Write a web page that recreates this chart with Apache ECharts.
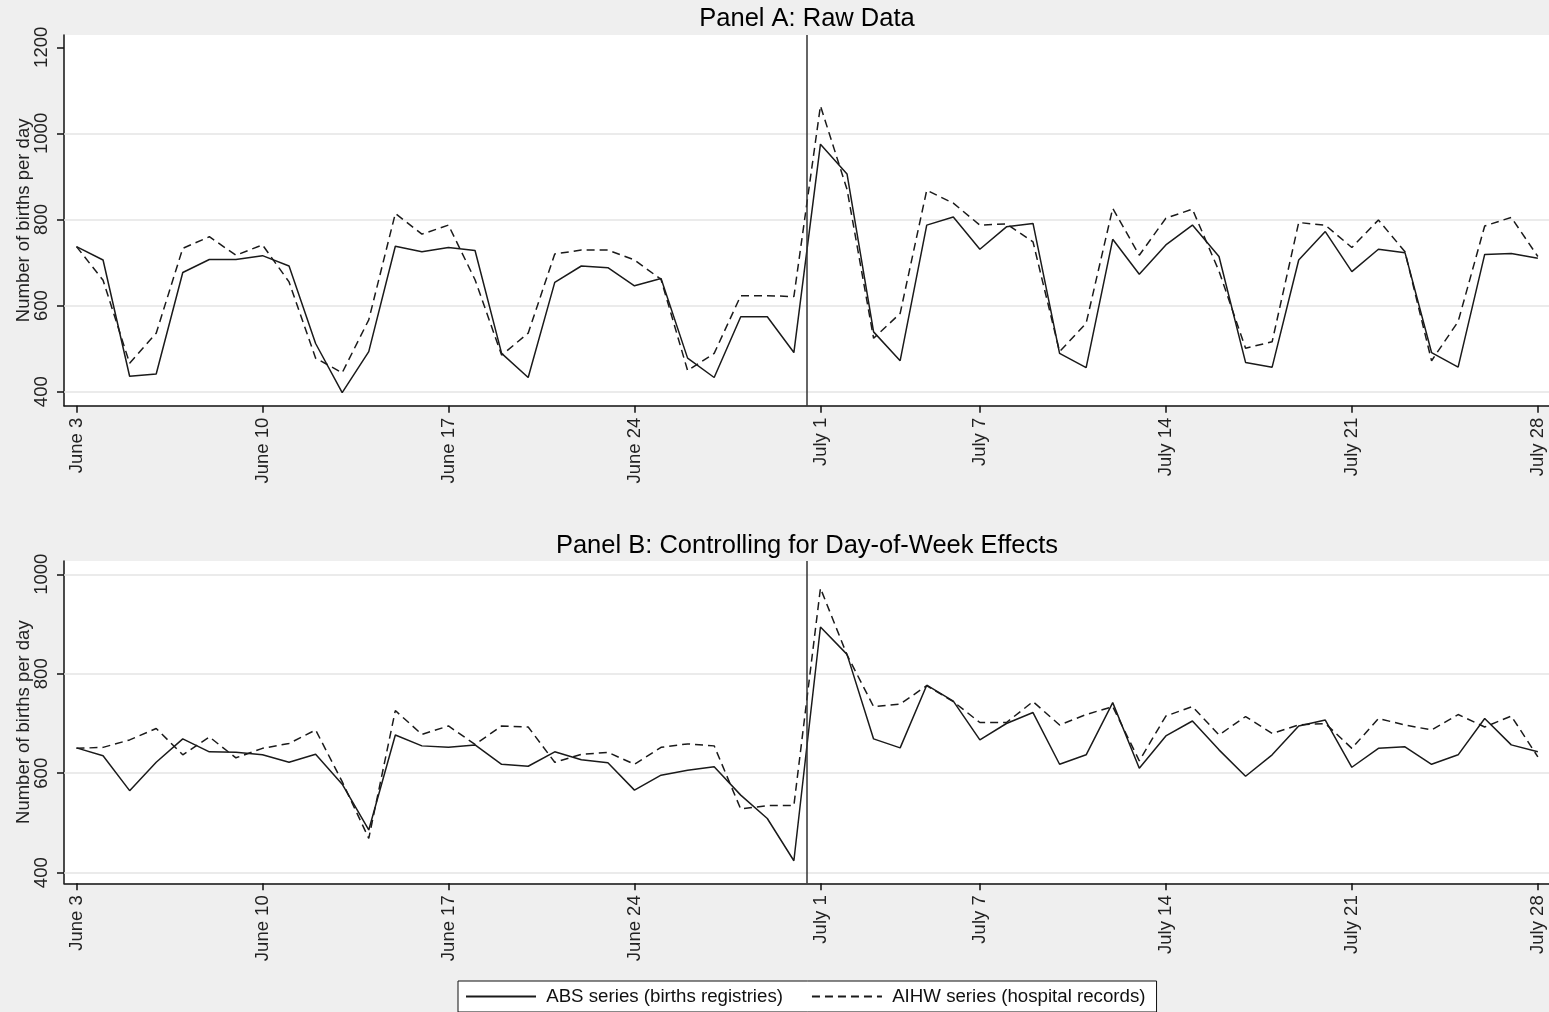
<!DOCTYPE html>
<html>
<head>
<meta charset="utf-8">
<script src="https://cdn.jsdelivr.net/npm/echarts@6/dist/echarts.min.js"></script>
<style>
html,body{margin:0;padding:0;background:#efefef;}
#c{width:1549px;height:1012px;}
</style>
</head>
<body>
<div id="c"></div>
<script>
// ---- Data (days counted from June 3 = 0 to July 28 = 55) ----
const tickDays = [0, 7, 14, 21, 28, 34, 41, 48, 55];
const tickLabels = ['June 3', 'June 10', 'June 17', 'June 24', 'July 1', 'July 7', 'July 14', 'July 21', 'July 28'];

const yTicksA = [400, 600, 800, 1000, 1200];
const gridLinesA = [400, 600, 800, 1000];
const yTicksB = [400, 600, 800, 1000];
const gridLinesB = [400, 600, 800, 1000];

const eventDay = 27.5; // boundary between June 30 and July 1

const seriesNames = ['ABS series (births registries)', 'AIHW series (hospital records)'];

// Panel A: raw data
const absRaw = [737, 706, 436, 441, 677, 707, 707, 716, 692, 512, 398, 493, 738, 725,
  735, 728, 489, 433, 654, 692, 688, 646, 663, 478, 433, 574, 574, 491,
  975, 906, 539, 472, 787, 806, 731, 783, 791, 489, 456, 754, 673, 741,
  787, 714, 468, 457, 706, 772, 679, 731, 723, 491, 457, 719, 721, 710];
const aihwRaw = [737, 659, 466, 536, 733, 760, 717, 741, 655, 478, 444, 567, 814, 766,
  787, 660, 485, 536, 720, 729, 729, 706, 661, 449, 489, 623, 623, 621,
  1064, 870, 524, 582, 868, 838, 787, 790, 748, 493, 559, 826, 717, 803,
  824, 680, 501, 516, 793, 787, 735, 799, 725, 472, 563, 785, 805, 714];

// Panel B: controlling for day-of-week effects
const absAdj = [651, 635, 565, 622, 669, 643, 642, 637, 622, 638, 578, 486, 677, 655,
  652, 657, 618, 614, 643, 627, 621, 566, 596, 606, 613, 556, 509, 424,
  894, 839, 669, 651, 777, 745, 667, 700, 722, 618, 637, 742, 610, 675,
  705, 647, 594, 637, 695, 707, 612, 650, 653, 618, 637, 710, 657, 643];
const aihwAdj = [650, 652, 667, 690, 637, 673, 631, 650, 660, 687, 583, 469, 726, 678,
  695, 658, 695, 693, 622, 638, 642, 618, 652, 659, 655, 528, 535, 535,
  972, 838, 734, 739, 776, 744, 702, 702, 744, 697, 718, 734, 625, 715,
  734, 677, 714, 680, 697, 700, 650, 710, 697, 687, 718, 693, 715, 633];

// ---- Chart ----
const FONT = '"Liberation Sans", Arial, Helvetica, sans-serif';
const INK = '#1a1a1a';
const LABEL_SIZE = 18.5;

function makeXAxis(gridIndex) {
  return {
    type: 'value', gridIndex: gridIndex, min: -0.47, max: 55.42,
    axisLine: {show: true, onZero: false, lineStyle: {color: '#111', width: 1.5}},
    axisTick: {show: true, customValues: tickDays, length: 7, lineStyle: {color: '#111', width: 1.5}},
    axisLabel: {
      customValues: tickDays, rotate: 90, margin: 12, fontSize: LABEL_SIZE, color: '#222', fontFamily: FONT,
      formatter: function (v) { const k = tickDays.indexOf(Math.round(v)); return k >= 0 ? tickLabels[k] : ''; }
    },
    splitLine: {show: false}
  };
}
function makeYAxis(gridIndex, min, max, ticks) {
  return {
    type: 'value', gridIndex: gridIndex, min: min, max: max,
    name: 'Number of births per day', nameLocation: 'middle', nameGap: 31, nameRotate: 90,
    nameMoveOverlap: false,
    nameTextStyle: {fontSize: LABEL_SIZE, color: '#222', fontFamily: FONT},
    axisLine: {show: true, onZero: false, lineStyle: {color: '#111', width: 1.5}},
    axisTick: {show: true, customValues: ticks, length: 7, lineStyle: {color: '#111', width: 1.5}},
    axisLabel: {customValues: ticks, rotate: 90, margin: 13, fontSize: LABEL_SIZE, color: '#222', fontFamily: FONT,
      formatter: function (v) { return String(Math.round(v)); }},
    splitLine: {show: false}
  };
}
function gridLineSeries(idx, values) {
  return {
    type: 'line', xAxisIndex: idx, yAxisIndex: idx, data: [], silent: true, z: 1,
    markLine: {
      z: 1, silent: true, symbol: 'none', label: {show: false}, animation: false,
      lineStyle: {color: '#e4e4e4', width: 1.5, type: 'solid'},
      data: values.map(function (v) { return {yAxis: v}; })
    }
  };
}
function dataSeries(name, idx, values, dashed, withEvent) {
  const s = {
    name: name, type: 'line', xAxisIndex: idx, yAxisIndex: idx, z: 3,
    data: values.map(function (v, i) { return [i, v]; }),
    symbol: 'none', animation: false,
    itemStyle: {color: INK},
    lineStyle: {color: INK, width: 1.5, type: dashed ? [8, 5] : 'solid'}
  };
  if (withEvent) {
    s.markLine = {
      z: 4, silent: true, symbol: 'none', label: {show: false}, animation: false,
      lineStyle: {color: '#333', width: 1.5, type: 'solid'},
      data: [{xAxis: eventDay}]
    };
  }
  return s;
}

const chart = echarts.init(document.getElementById('c'), null, {renderer: 'canvas'});
chart.setOption({
  backgroundColor: '#efefef',
  animation: false,
  title: [
    {text: 'Panel A: Raw Data', left: 807, top: 6, textAlign: 'center', padding: 0,
      textStyle: {fontSize: 25.5, fontWeight: 'normal', color: '#000', fontFamily: FONT}},
    {text: 'Panel B: Controlling for Day-of-Week Effects', left: 807, top: 533, textAlign: 'center', padding: 0,
      textStyle: {fontSize: 25.5, fontWeight: 'normal', color: '#000', fontFamily: FONT}}
  ],
  grid: [
    {left: 64, right: 0, top: 35, height: 370.7, show: true, backgroundColor: '#fff', borderWidth: 0, containLabel: false},
    {left: 64, right: 0, top: 561, height: 322.3, show: true, backgroundColor: '#fff', borderWidth: 0, containLabel: false}
  ],
  xAxis: [makeXAxis(0), makeXAxis(1)],
  yAxis: [makeYAxis(0, 367.5, 1228.6, yTicksA), makeYAxis(1, 378.7, 1026.7, yTicksB)],
  legend: {
    left: 458, top: 981, orient: 'horizontal', selectedMode: false,
    itemWidth: 70, itemHeight: 14, itemGap: 28, padding: [6, 11, 6, 7],
    backgroundColor: '#fff', borderColor: '#111', borderWidth: 1, borderRadius: 0,
    itemStyle: {opacity: 0},
    formatter: function (name) { return ' ' + name; },
    textStyle: {fontSize: 18.7, color: '#111', fontFamily: FONT},
    data: seriesNames
  },
  series: [
    gridLineSeries(0, gridLinesA),
    gridLineSeries(1, gridLinesB),
    dataSeries(seriesNames[0], 0, absRaw, false, true),
    dataSeries(seriesNames[1], 0, aihwRaw, true, false),
    dataSeries(seriesNames[0], 1, absAdj, false, true),
    dataSeries(seriesNames[1], 1, aihwAdj, true, false)
  ]
});
</script>
</body>
</html>
